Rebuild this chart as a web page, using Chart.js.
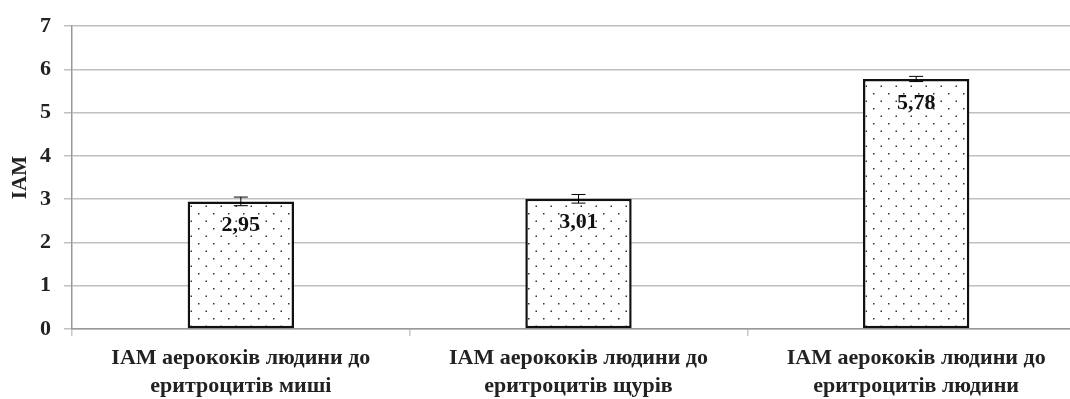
<!DOCTYPE html>
<html>
<head>
<meta charset="utf-8">
<script src="https://cdn.jsdelivr.net/npm/chart.js@4/dist/chart.umd.min.js"></script>
<style>
  html, body { margin: 0; padding: 0; background: #fff; overflow: hidden; }
  #wrap { width: 1085px; height: 399px; }
</style>
</head>
<body>
<div id="wrap"><canvas id="barChart" width="1085" height="399"></canvas></div>
<script>
var categories = [
    ['IAM аерококів людини до', 'еритроцитів миші'],
    ['IAM аерококів людини до', 'еритроцитів щурів'],
    ['IAM аерококів людини до', 'еритроцитів людини']
];
var values = [2.95, 3.01, 5.78];
var errors = [0.1, 0.1, 0.06];
var valueLabels = ['2,95', '3,01', '5,78'];
var yTicks = [0, 1, 2, 3, 4, 5, 6, 7];

var serif = "'Liberation Serif', 'Times New Roman', serif";

// dotted fill like the original
function dotPattern() {
    var c = document.createElement('canvas');
    c.width = 15; c.height = 15;
    var g = c.getContext('2d');
    g.fillStyle = '#fff';
    g.fillRect(0, 0, 15, 15);
    g.fillStyle = '#333';
    g.fillRect(3, 3, 1.5, 1.5);
    g.fillRect(10.5, 10.5, 1.5, 1.5);
    return document.createElement('canvas').getContext('2d').createPattern(c, 'repeat');
}

var extras = {
    id: 'extras',
    afterDatasetsDraw: function(chart) {
        var ctx = chart.ctx;
        var meta = chart.getDatasetMeta(0);
        var y = chart.scales.y;
        ctx.save();
        meta.data.forEach(function(bar, i) {
            var x = bar.x;
            var hi = y.getPixelForValue(values[i] + errors[i]);
            var lo = y.getPixelForValue(values[i] - errors[i]);
            ctx.strokeStyle = '#000';
            ctx.lineWidth = 1;
            ctx.beginPath();
            ctx.moveTo(x, hi); ctx.lineTo(x, lo);
            ctx.moveTo(x - 7, hi); ctx.lineTo(x + 7, hi);
            ctx.moveTo(x - 7, lo); ctx.lineTo(x + 7, lo);
            ctx.stroke();

            ctx.fillStyle = '#111';
            ctx.font = 'bold 22px ' + serif;
            ctx.textAlign = 'center';
            ctx.textBaseline = 'middle';
            ctx.fillText(valueLabels[i], x, bar.y + 24);
        });
        ctx.restore();
    }
};

var ctx = document.getElementById('barChart').getContext('2d');
var barChart = new Chart(ctx, {
    type: 'bar',
    data: {
        labels: categories,
        datasets: [{
            data: values,
            backgroundColor: dotPattern(),
            borderColor: '#111',
            borderWidth: 2.5,
            borderSkipped: false,
            barPercentage: 0.315,
            categoryPercentage: 1
        }]
    },
    options: {
        responsive: false,
        animation: false,
        layout: { padding: { top: 23, left: 0, right: 0, bottom: 0 } },
        plugins: {
            legend: { display: false },
            tooltip: { enabled: false }
        },
        scales: {
            x: {
                grid: {
                    offset: true,
                    drawOnChartArea: false,
                    tickLength: 7,
                    color: '#c8c8c8',
                    lineWidth: 1.5
                },
                border: { color: '#999', width: 1.5 },
                ticks: {
                    color: '#222',
                    padding: 8,
                    maxRotation: 0,
                    autoSkip: false,
                    font: { family: serif, size: 22, weight: 'bold', lineHeight: 1.27 }
                },
                afterFit: function(s) { s.height = 70; }
            },
            y: {
                min: 0,
                max: 7,
                afterBuildTicks: function(s) {
                    s.ticks = yTicks.map(function(v) { return { value: v }; });
                },
                grid: {
                    color: '#c0c0c0',
                    lineWidth: 1.5,
                    tickLength: 8
                },
                border: { color: '#999', width: 1.5 },
                ticks: {
                    color: '#222',
                    padding: 13,
                    font: { family: serif, size: 22, weight: 'bold' }
                },
                title: {
                    display: true,
                    text: 'IAM',
                    color: '#222',
                    padding: { top: 8, bottom: 0 },
                    font: { family: serif, size: 21, weight: 'bold' }
                },
                afterFit: function(s) { s.width = 72; }
            }
        }
    },
    plugins: [extras]
});
</script>
</body>
</html>
